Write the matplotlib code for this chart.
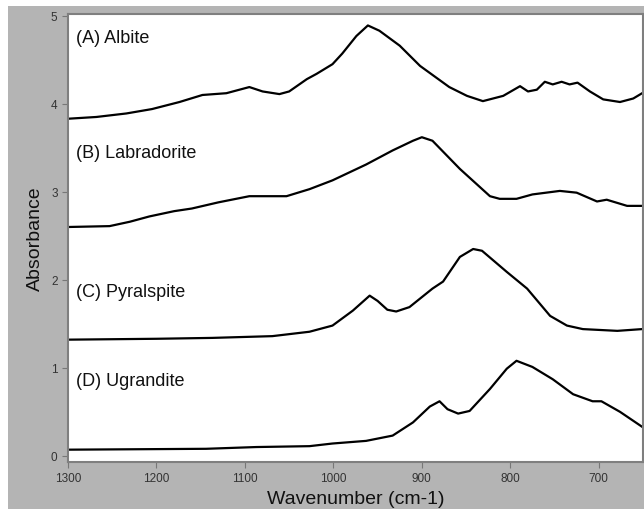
import matplotlib
matplotlib.use("Agg")
import matplotlib.pyplot as plt
from matplotlib.patches import Rectangle

plt.rcParams["font.family"] = ["Liberation Sans", "DejaVu Sans"]

# ── 数据 ────────────────────────────────────────────────────
albite_wn = [1300, 1268, 1234, 1205, 1174, 1148, 1121, 1095, 1080, 1061, 1050,
             1030, 1019, 1001, 990, 974, 961, 948, 925, 902, 880, 869, 849,
             831, 808, 789, 780, 770, 761, 752, 742, 733, 724, 710, 695, 676,
             661, 651]
albite_abs = [3.83, 3.85, 3.89, 3.94, 4.02, 4.10, 4.12, 4.19, 4.14, 4.11, 4.14,
              4.28, 4.34, 4.45, 4.57, 4.77, 4.89, 4.83, 4.66, 4.43, 4.27, 4.19, 4.09,
              4.03, 4.09, 4.20, 4.14, 4.16, 4.25, 4.22, 4.25, 4.22, 4.24, 4.14, 4.05, 4.02,
              4.06, 4.12]

labradorite_wn = [1300, 1253, 1230, 1208, 1180, 1160, 1130, 1095, 1053, 1027,
                  1001, 963, 933, 910, 900, 888, 857, 823, 812, 793, 775, 744,
                  725, 702, 691, 668, 651]
labradorite_abs = [2.60, 2.61, 2.66, 2.72, 2.78, 2.81, 2.88, 2.95, 2.95, 3.03,
                   3.13, 3.31, 3.47, 3.58, 3.62, 3.58, 3.26, 2.95, 2.92, 2.92, 2.97, 3.01,
                   2.99, 2.89, 2.91, 2.84, 2.84]

pyralspite_wn = [1300, 1200, 1137, 1069, 1027, 1001, 978, 959, 950, 939, 929,
                 914, 888, 876, 857, 842, 832, 804, 781, 755, 736, 718, 679, 651]
pyralspite_abs = [1.32, 1.33, 1.34, 1.36, 1.41, 1.48, 1.65, 1.82, 1.76, 1.66, 1.64,
                  1.69, 1.90, 1.98, 2.26, 2.35, 2.33, 2.09, 1.90, 1.59, 1.48, 1.44, 1.42, 1.44]

ugrandite_wn = [1300, 1144, 1087, 1027, 1001, 963, 933, 910, 891, 880, 871,
                859, 846, 823, 804, 793, 775, 752, 729, 707, 697, 676, 651]
ugrandite_abs = [0.07, 0.08, 0.10, 0.11, 0.14, 0.17, 0.23, 0.38, 0.56, 0.62, 0.53,
                 0.48, 0.51, 0.76, 0.99, 1.08, 1.01, 0.87, 0.70, 0.62, 0.62, 0.50, 0.33]

labels = ["(A) Albite", "(B) Labradorite", "(C) Pyralspite", "(D) Ugrandite"]
label_y = [4.75, 3.45, 1.87, 0.86]

x_ticks = [1300, 1200, 1100, 1000, 900, 800, 700]
y_ticks = [0, 1, 2, 3, 4, 5]

# ── 绘图 ──────────────────────────────────────────────────────────
fig = plt.figure(figsize=(6.44, 5.10), dpi=100, facecolor="white")
fig.patches.append(Rectangle((8 / 644, 0), 1, 1 - 7 / 510, transform=fig.transFigure,
                             facecolor="#b4b4b4", edgecolor="none", zorder=-10))

ax = fig.add_axes([68 / 644, 1 - 463 / 510, (643 - 68) / 644, (463 - 15) / 510])
ax.set_facecolor("white")
ax.set_zorder(1)

series = [(albite_wn, albite_abs), (labradorite_wn, labradorite_abs),
          (pyralspite_wn, pyralspite_abs), (ugrandite_wn, ugrandite_abs)]
for (wn, ab), lab, ly in zip(series, labels, label_y):
    ax.plot(wn, ab, color="black", lw=1.6, solid_joinstyle="round")
    ax.text(1291, ly, lab, fontsize=13, ha="left", va="center", color="#111111")

ax.set_xlim(1300, 650)
ax.set_ylim(-0.07, 5.02)
ax.set_xticks(x_ticks)
ax.set_yticks(y_ticks)
ax.tick_params(axis="both", labelsize=8.5, colors="#777777", labelcolor="#333333",
               length=4, width=0.8, direction="out")

for s in ax.spines.values():
    s.set_color("#7f7f7f")
    s.set_linewidth(1.5)

ax.set_ylabel("Absorbance", fontsize=14, color="#111111", labelpad=5)
ax.set_xlabel("Wavenumber (cm-1)", fontsize=14, color="#111111", labelpad=4)

fig.savefig("out.png", dpi=100, facecolor=fig.get_facecolor())
